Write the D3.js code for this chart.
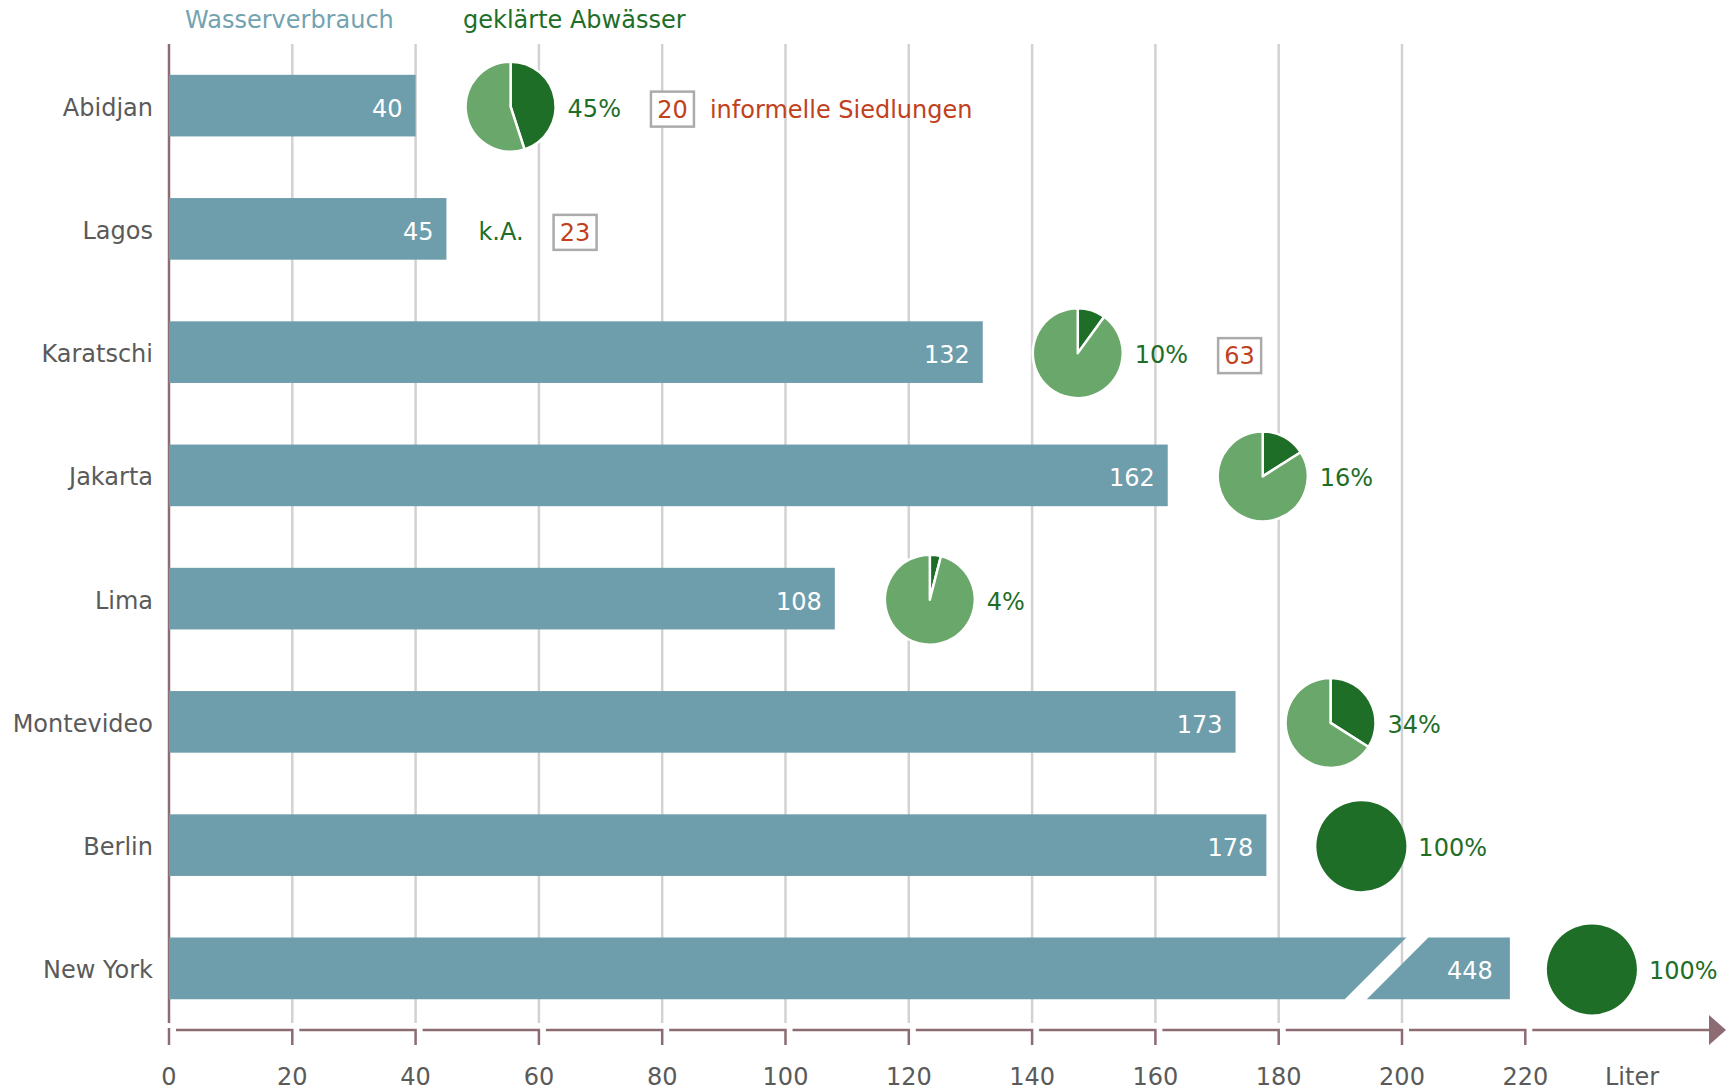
<!DOCTYPE html>
<html lang="de">
<head>
    <meta charset="utf-8">
    <title>Wasserverbrauch</title>
    <script src="https://d3js.org/d3.v7.min.js"></script>
    <style>
      body { margin: 0; background: #fff; }
      text { font-family: "DejaVu Sans", sans-serif; font-size: 24px; }
    </style>
</head>
<body>
<svg id="chart"></svg>
<script>
    // data
    const cities = ["Abidjan", "Lagos", "Karatschi", "Jakarta", "Lima", "Montevideo", "Berlin", "New York"];
    const litersPerDay = [40, 45, 132, 162, 108, 173, 178, 448];
    const treatedShare = [45, null, 10, 16, 4, 34, 100, 100];   // % geklärte Abwässer, null = k.A.
    const informalSettlements = [20, 23, 63, null, null, null, null, null];
    const xTicks = [0, 20, 40, 60, 80, 100, 120, 140, 160, 180, 200, 220];
    const axisMax = 220;
    const brokenBarEnd = 217.5;   // where the cut New York bar stops on the axis
    const breakValue = 197.5;     // centre of the diagonal cut

    const colors = {
        bar: "#6e9dac",
        dark: "#1e6e28",
        light: "#6aa76a",
        axis: "#8c6b72",
        grid: "#d2d2d2",
        red: "#c0411c",
        text: "#5a5a5a",
        head: "#73a3b1"
    };

    const width = 1726, height = 1090;
    const svg = d3.select("#chart").attr("width", width).attr("height", height);

    const x = d3.scaleLinear().domain([0, axisMax]).range([169, 1525.3]);
    const y = d3.scaleBand().domain(cities).range([44, 1030]).paddingInner(0.5).paddingOuter(0.25);
    const bw = y.bandwidth();
    const mid = c => y(c) + bw / 2;

    const rows = cities.map((c, i) => ({
        city: c, value: litersPerDay[i], share: treatedShare[i], informal: informalSettlements[i]
    }));

    // headers
    svg.append("text").attr("x", 185).attr("y", 20).attr("dominant-baseline", "central")
        .attr("fill", colors.head).text("Wasserverbrauch");
    svg.append("text").attr("x", 463).attr("y", 20).attr("dominant-baseline", "central")
        .attr("fill", colors.dark).text("geklärte Abwässer");

    // gridlines
    svg.append("g").selectAll("line")
        .data(xTicks.filter(t => t > 0 && t < axisMax))
        .join("line")
        .attr("x1", d => x(d)).attr("x2", d => x(d))
        .attr("y1", 44).attr("y2", 1023)
        .attr("stroke", colors.grid).attr("stroke-width", 2.5);

    // y axis line
    svg.append("line").attr("x1", x(0)).attr("x2", x(0)).attr("y1", 44).attr("y2", 1023)
        .attr("stroke", colors.axis).attr("stroke-width", 2.5);

    // bars
    const gBars = svg.append("g");
    rows.forEach(d => {
        const top = y(d.city), bot = top + bw;
        if (d.value <= axisMax) {
            gBars.append("rect").attr("x", x(0)).attr("y", top)
                .attr("width", x(d.value) - x(0)).attr("height", bw).attr("fill", colors.bar);
        } else {
            const gap = 11, slant = bw / 2;
            const xb = x(breakValue), xe = x(brokenBarEnd);
            gBars.append("path").attr("fill", colors.bar)
                .attr("d", `M${x(0)},${top}L${xb + slant - gap},${top}L${xb - slant - gap},${bot}L${x(0)},${bot}Z`);
            gBars.append("path").attr("fill", colors.bar)
                .attr("d", `M${xb + slant + gap},${top}L${xe},${top}L${xe},${bot}L${xb - slant + gap},${bot}Z`);
        }
    });
    const barEnd = d => x(Math.min(d.value, brokenBarEnd));

    // bar values
    svg.append("g").selectAll("text").data(rows).join("text")
        .attr("x", d => barEnd(d) - (d.value > axisMax ? 17 : 13))
        .attr("y", d => mid(d.city) + 3)
        .attr("text-anchor", "end").attr("dominant-baseline", "central")
        .attr("fill", "#fff").text(d => d.value);

    // city labels
    svg.append("g").selectAll("text").data(rows).join("text")
        .attr("x", 153).attr("y", d => mid(d.city) + 2)
        .attr("text-anchor", "end").attr("dominant-baseline", "central")
        .attr("fill", colors.text).text(d => d.city);

    // pies
    const r = 45;
    const arc = d3.arc().innerRadius(0).outerRadius(r);
    const pie = d3.pie().sort(null).value(v => v);
    const gAnno = svg.append("g");
    rows.forEach(d => {
        const cy = mid(d.city) + 1;
        let labelX;
        if (d.share === null) {
            labelX = barEnd(d) + 32;
        } else {
            const cx = barEnd(d) + (d.value > axisMax ? 82 : 95);
            const g = gAnno.append("g").attr("transform", `translate(${cx},${cy})`);
            g.selectAll("path")
                .data(pie([d.share, 100 - d.share]).filter(s => s.value > 0))
                .join("path")
                .attr("d", arc)
                .attr("fill", s => s.index === 0 ? colors.dark : colors.light)
                .attr("stroke", "#fff")
                .attr("stroke-width", d.share === 100 ? 0 : 2.5)
                .attr("stroke-linejoin", "round");
            labelX = cx + 57;
        }
        const lbl = gAnno.append("text").attr("x", labelX).attr("y", cy + 2)
            .attr("dominant-baseline", "central").attr("fill", colors.dark)
            .text(d.share === null ? "k.A." : d.share + "%");
        if (d.informal !== null) {
            const bx = labelX + lbl.node().getComputedTextLength() + 30;
            const by = mid(d.city) + 3;
            gAnno.append("rect").attr("x", bx).attr("y", by - 17).attr("width", 43).attr("height", 35)
                .attr("fill", "#fff").attr("stroke", "#ababab").attr("stroke-width", 2.5);
            gAnno.append("text").attr("x", bx + 21.5).attr("y", by + 1)
                .attr("text-anchor", "middle").attr("dominant-baseline", "central")
                .attr("fill", colors.red).text(d.informal);
            if (d.city === cities[0]) {
                gAnno.append("text").attr("x", bx + 59).attr("y", by + 1)
                    .attr("dominant-baseline", "central").attr("fill", colors.red)
                    .text("informelle Siedlungen");
            }
        }
    });

    // x axis: segments with hooks down at every tick
    const axisY = 1030, tickLen = 15;
    const gAxis = svg.append("g").attr("stroke", colors.axis).attr("stroke-width", 2.5).attr("fill", "none");
    gAxis.append("line").attr("x1", x(0)).attr("x2", x(0)).attr("y1", axisY - 2).attr("y2", axisY + tickLen);
    xTicks.slice(1).forEach((t, i) => {
        const x0 = x(xTicks[i]) + 7, x1 = x(t);
        gAxis.append("path").attr("d", `M${x0},${axisY}H${x1}V${axisY + tickLen}`);
    });
    gAxis.append("line").attr("x1", x(axisMax) + 7).attr("x2", 1712).attr("y1", axisY).attr("y2", axisY);
    svg.append("path").attr("fill", colors.axis)
        .attr("d", `M1709,${axisY - 15}L1726,${axisY}L1709,${axisY + 15}Z`);

    svg.append("g").selectAll("text").data(xTicks).join("text")
        .attr("x", d => x(d)).attr("y", 1077)
        .attr("text-anchor", "middle").attr("dominant-baseline", "central")
        .attr("fill", colors.text).text(d => d);
    svg.append("text").attr("x", 1632).attr("y", 1077)
        .attr("text-anchor", "middle").attr("dominant-baseline", "central")
        .attr("fill", colors.text).text("Liter");
</script>
</body>
</html>
